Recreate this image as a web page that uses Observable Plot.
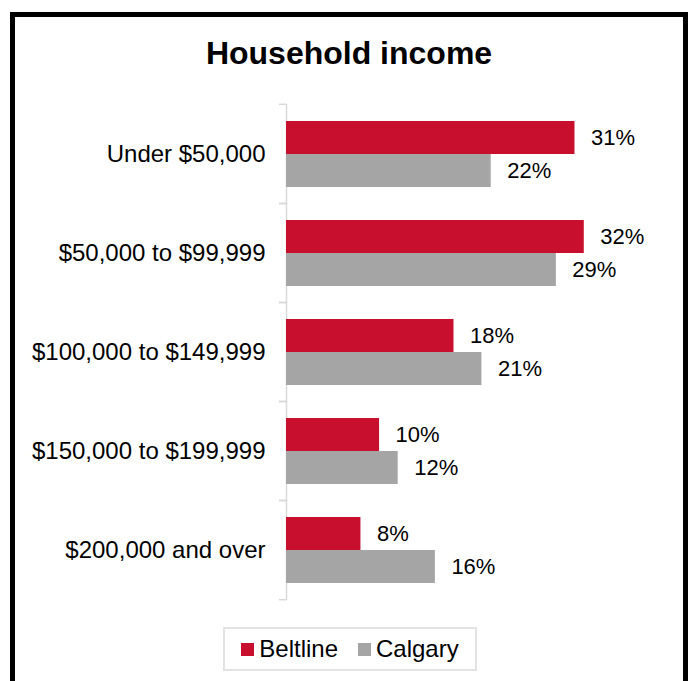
<!DOCTYPE html>
<html>
<head>
<meta charset="utf-8">
<script src="https://cdn.jsdelivr.net/npm/d3@7"></script>
<script src="https://cdn.jsdelivr.net/npm/@observablehq/plot@0.6"></script>
<style>
  html, body { margin: 0; padding: 0; background: #fff; }
  body { width: 692px; height: 681px; position: relative; overflow: hidden;
         font-family: "Liberation Sans", Arial, sans-serif; }
  #frame { position: absolute; left: 10px; top: 12px; width: 668px; height: 720px;
           border: 5px solid #000; box-sizing: content-box; }
  #title { position: absolute; left: 10px; width: 678px; top: 35px; text-align: center;
           font-weight: bold; font-size: 32px; color: #000; }
  #chart { position: absolute; left: 0; top: 0; }
  #legend { position: absolute; left: 223px; top: 627px; width: 250px; height: 40px;
            border: 2px solid #e3e3e3; display: flex; align-items: center; justify-content: center;
            gap: 20px; font-size: 24px; color: #000; background: #fff; }
  .item { display: flex; align-items: center; gap: 5px; }
  .sw { width: 13px; height: 13px; display: inline-block; }
</style>
</head>
<body>
<div id="frame"></div>
<div id="chart"></div>
<div id="title">Household income</div>
<div id="legend"></div>
<script>
const categories = ["Under $50,000", "$50,000 to $99,999", "$100,000 to $149,999", "$150,000 to $199,999", "$200,000 and over"];
const seriesNames = ["Beltline", "Calgary"];
const beltline = [31, 32, 18, 10, 8];
const calgary = [22, 29, 21, 12, 16];
const colors = ["#C8102E", "#A5A5A5"];

const data = [];
categories.forEach((c, i) => {
  data.push({category: c, series: "Beltline", value: beltline[i]});
  data.push({category: c, series: "Calgary", value: calgary[i]});
});

const H = 620, mt = 103, mb = 20;
const step = (H - mt - mb) / categories.length;

const plot = Plot.plot({
  width: 692,
  height: H,
  marginLeft: 286,
  marginRight: 71,
  marginTop: mt,
  marginBottom: mb,
  style: {fontFamily: "'Liberation Sans', Arial, sans-serif", background: "transparent"},
  x: {domain: [0, 36], axis: null},
  y: {domain: seriesNames, axis: null, paddingInner: 0, paddingOuter: 0.5},
  fy: {domain: categories, padding: 0, label: null, axis: null},
  color: {domain: seriesNames, range: colors},
  marks: [
    Plot.axisFy({anchor: "left", tickSize: 0, tickPadding: 21, fontSize: 24, fill: "#000", label: null}),
    Plot.axisFy({anchor: "left", tickSize: 7, tickFormat: () => "", stroke: "#d9d9d9", strokeWidth: 1.5, dy: -step / 2, label: null}),
    Plot.axisFy([categories[categories.length - 1]], {anchor: "left", tickSize: 7, tickFormat: () => "", stroke: "#d9d9d9", strokeWidth: 1.5, dy: step / 2, label: null}),
    Plot.frame({anchor: "left", stroke: "#d9d9d9", strokeWidth: 1.5}),
    Plot.barX(data, {x: "value", y: "series", fy: "category", fill: "series"}),
    Plot.text(data, {x: "value", y: "series", fy: "category", text: d => d.value + "%",
      textAnchor: "start", dx: 16, fontSize: 22, fill: "#000"})
  ]
});
document.getElementById("chart").appendChild(plot);

const legend = document.getElementById("legend");
seriesNames.forEach((s, i) => {
  const item = document.createElement("div");
  item.className = "item";
  const sw = document.createElement("span");
  sw.className = "sw";
  sw.style.background = colors[i];
  item.appendChild(sw);
  item.appendChild(document.createTextNode(s));
  legend.appendChild(item);
});
</script>
</body>
</html>
